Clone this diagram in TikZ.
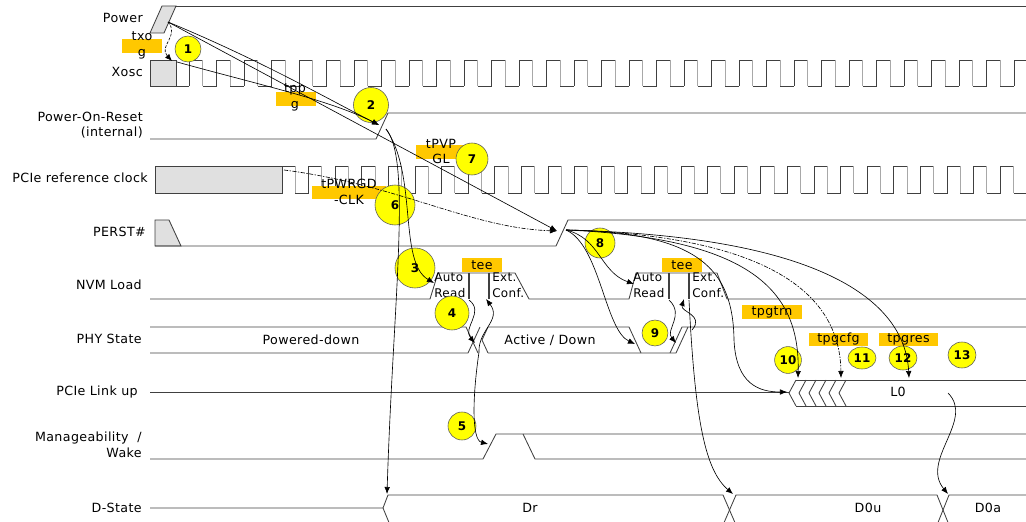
\documentclass[tikz,border=0pt]{standalone}
\usepackage{fontspec}
\setmainfont{DejaVu Sans}[LetterSpace=3]
\usepackage{xcolor}
\usetikzlibrary{arrows.meta,shapes.geometric}

\definecolor{wavegrey}{HTML}{404040}
\definecolor{edgegrey}{HTML}{A8A8A8}
\definecolor{shadegrey}{HTML}{E0E0E0}
\definecolor{tmark}{HTML}{FFC800}
\definecolor{bubble}{HTML}{FFFF00}

\begin{document}
\begin{tikzpicture}[x=0.25mm, y=-0.25mm, inner sep=0pt]
		\tikzstyle{every node}=[font=\fontsize{9}{11}\selectfont]
		\tikzstyle{sig}=[draw=wavegrey, line width=0.6pt]
		\tikzstyle{lbl}=[anchor=east, align=right]
		\tikzstyle{tbox}=[fill=tmark, minimum height=3.3mm]
		\tikzstyle{bub}=[circle, draw=black!65, fill=bubble, font=\bfseries\fontsize{8.5}{9}\selectfont]
		\tikzstyle{conn}=[draw=black, line width=0.45pt, -{Latex[length=5pt,width=4pt]}]
		\tikzstyle{inner}=[font=\fontsize{8.5}{11.4}\selectfont, anchor=west, align=left]

			\useasboundingbox (0,0) rectangle (1026,522);

			% row labels
			\node[lbl] (lpower) at (143,18) {Power};
			\node[lbl] (lxosc) at (143,72) {Xosc};
			\node[lbl] (lpor) at (143,125) {Power-On-Reset\\(internal)};
			\node[lbl] (lref) at (148,178) {PCIe reference clock};
			\node[lbl] (lperst) at (146,232) {PERST\#};
			\node[lbl] (lnvm) at (142,285) {NVM Load};
			\node[lbl] (lphy) at (142,339) {PHY State};
			\node[lbl] (llink) at (138,392) {PCIe Link up};
			\node[lbl] (lmng) at (142,445) {Manageability\ \ /\\Wake};
			\node[lbl] (ldst) at (142,508) {D-State};

			% waveforms
			\filldraw[sig, fill=shadegrey] (150,33) -- (162,6) -- (176,6) -- (164,33) -- cycle;
			\draw[sig] (176,6) -- (1026,6);

			\filldraw[sig, fill=shadegrey] (150,60) rectangle (176,86);
			\draw[sig] (176,86) -- (189,86);
			\filldraw[sig, fill=shadegrey] (155,166) rectangle (282,193);
			\begin{scope}
				\clip (150,0) rectangle (1026,522);
				\foreach \k in {0,...,30} {
					\pgfmathsetmacro{\xa}{189+27.5*\k}
					\pgfmathsetmacro{\xb}{\xa+13.75}
					\pgfmathsetmacro{\xc}{\xa+27.5}
					\draw[sig] (\xa,86) -- (\xa,60) -- (\xb,60);
					\draw[sig, draw=edgegrey] (\xb,60) -- (\xb,86);
					\draw[sig] (\xb,86) -- (\xc,86);
				}
				\foreach \k in {0,...,27} {
					\pgfmathsetmacro{\xa}{282+26.6*\k}
					\pgfmathsetmacro{\xb}{\xa+13.3}
					\pgfmathsetmacro{\xc}{\xa+26.6}
					\draw[sig] (\xa,166) -- (\xb,166);
					\draw[sig, draw=edgegrey] (\xb,166) -- (\xb,193);
					\draw[sig] (\xb,193) -- (\xc,193) -- (\xc,166);
				}
			\end{scope}

			\draw[sig] (150,139) -- (376,139) -- (388,113) -- (1026,113);

			\filldraw[sig, fill=shadegrey] (155,220) -- (169,220) -- (181,246) -- (155,246) -- cycle;
			\draw[sig] (155,246) -- (556,246) -- (568,220) -- (1026,220);

			\draw[sig] (150,299) -- (430,299) -- (438,273) -- (515,273) -- (529,299) -- (629,299)
				-- (636,273) -- (717,273) -- (727,299) -- (1026,299);
			\foreach \x in {469,489,669,689}
				\draw[sig, line width=1.3pt] (\x,273) -- (\x,299);

			\draw[sig] (150,327) -- (466,327) -- (478,353);
			\draw[sig] (150,353) -- (468,353) -- (480,327);
			\draw[sig] (488,327) -- (482,340) -- (488,353);
			\draw[sig] (488,327) -- (629,327) -- (641,353);
			\draw[sig] (488,353) -- (676,353) -- (688,327);
			\draw[sig] (670,353) -- (682,327) -- (1026,327);

			\draw[sig] (150,392) -- (789,392);
			\foreach \i in {0,...,5}
				\draw[sig] ({796+10*\i},380) -- ({789+10*\i},393) -- ({796+10*\i},406);
			\draw[sig] (796,380) -- (1026,380);
			\draw[sig] (796,406) -- (1026,406);

			\draw[sig] (150,459) -- (483,459) -- (496,434) -- (1026,434);
			\draw[sig] (523,434) -- (535,459) -- (1026,459);

			\begin{scope}
				\clip (0,0) rectangle (1026,522);
				\draw[sig] (150,508) -- (383,508) -- (388,495) -- (723,495) -- (736,525) -- (937,525) -- (949,495) -- (1026,495);
				\draw[sig] (383,508) -- (390,525) -- (723,525) -- (736,495) -- (937,495) -- (949,525) -- (1026,525);
			\end{scope}

			% state texts
			\node (tpd) at (311,340) {Powered-down};
			\node (tact) at (550,340) {Active / Down};
			\node (tlz) at (898,392) {L0};
			\node (tdr) at (530,508) {Dr};
			\node (tdu) at (868,508) {D0u};
			\node (tda) at (988,508) {D0a};
			\node[inner] (autoA) at (434,285) {Auto\\Read};
			\node[inner] (extA) at (492,285) {Ext.\\Conf.};
			\node[inner] (autoB) at (633,285) {Auto\\Read};
			\node[inner] (extB) at (692,285) {Ext.\\Conf.};

			% timing marks
			\node[tbox, minimum width=10mm] (txobox) at (142,46) {};
			\node[align=center] (txo) at (142,45.5) {txo\\g};
			\node[tbox, minimum width=10mm] (tppbox) at (296,99) {};
			\node[align=center] (tpp) at (295,97.5) {tpp\\g};
			\node[tbox, minimum width=12.75mm] (tpvpbox) at (441.5,152) {};
			\node[align=center] (tpvp) at (441,151.5) {tPVP\\GL};
			\node[tbox, minimum width=18.5mm] (tpwrbox) at (349,192.5) {};
			\node[align=center] (tpwr) at (349,192) {tPWRGD\\-CLK};
			\node[tbox, minimum width=10mm, minimum height=3.5mm] (teeA) at (482,265) {tee};
			\node[tbox, minimum width=10mm, minimum height=3.5mm] (teeB) at (682,265) {tee};
			\node[tbox, minimum width=15mm, minimum height=3.5mm] (trn) at (772,312) {tpgtrn};
			\node[tbox, minimum width=14.75mm] (cfg) at (838.5,339.5) {tpgcfg};
			\node[tbox, minimum width=14.75mm] (res) at (908.5,339.5) {tpgres};

			% numbered marks
			\node[bub, minimum size=6.5mm] (n1) at (188,49) {1};
			\node[bub, minimum size=8.75mm] (n2) at (371,105) {2};
			\node[bub, minimum size=10mm] (n3) at (415,268) {3};
			\node[bub, minimum size=8.5mm] (n4) at (452,313) {4};
			\node[bub, minimum size=7mm] (n5) at (462,426) {5};
			\node[bub, minimum size=10mm] (n6) at (395,205) {6};
			\node[bub, minimum size=8mm] (n7) at (472,159) {7};
			\node[bub, minimum size=7.5mm] (n8) at (600,243) {8};
			\node[bub, minimum size=6.5mm] (n9) at (655,333) {9};
			\node[bub, minimum size=6.7mm] (n10) at (788,360) {10};
			\node[bub, ellipse, minimum width=7mm, minimum height=5.5mm] (n11) at (862,358) {11};
			\node[bub, ellipse, minimum width=7mm, minimum height=6mm] (n12) at (903,358) {12};
			\node[bub, ellipse, minimum width=7mm, minimum height=6.5mm] (n13) at (962,355) {13};

			% connector ends
			\coordinate (pwr) at (168,22);
			\coordinate (xoscin) at (172,61);
			\coordinate (xoscout) at (177,62);
			\coordinate (porin) at (379,125);
			\coordinate (porout) at (386,129);
			\coordinate (refout) at (284,170);
			\coordinate (perstin) at (557,231);
			\coordinate (perstout) at (566,230);
			\coordinate (nvmAin) at (434,283);
			\coordinate (nvmAout) at (469,300);
			\coordinate (phyAin) at (475,343);
			\coordinate (phyAout) at (479,352);
			\coordinate (extAin) at (486,299);
			\coordinate (mngin) at (488,444);
			\coordinate (drin) at (387,494);
			\coordinate (nvmBin) at (634,284);
			\coordinate (phyBin) at (635,344);
			\coordinate (nvmBout) at (669,300);
			\coordinate (phyCin) at (676,343);
			\coordinate (phyCout) at (692,330);
			\coordinate (extBin) at (684,299);
			\coordinate (extBout) at (689,300);
			\coordinate (d0uin) at (733,494);
			\coordinate (linkin) at (787,392);
			\coordinate (trnin) at (798,378);
			\coordinate (cfgin) at (841,378);
			\coordinate (resin) at (909,378);
			\coordinate (lzout) at (948,393);
			\coordinate (d0ain) at (948,494);

			% connectors
			\draw[conn, dash pattern=on 2pt off 1pt] (pwr) .. controls (180,36) and (158,46) .. (xoscin);
			\draw[conn] (pwr) .. controls (260,60) and (330,100) .. (porin);
			\draw[conn] (xoscout) .. controls (260,85) and (330,100) .. (porin);
			\draw[conn] (pwr) -- (perstin);
			\draw[conn, dash pattern=on 3pt off 1pt on 1pt off 1pt] (refout) .. controls (400,185) and (470,228) .. (perstin);
			\draw[conn] (porout) .. controls (412,160) and (393,300) .. (drin);
			\draw[conn] (porout) .. controls (418,175) and (398,262) .. (nvmAin);
			\draw[conn] (nvmAout) .. controls (485,312) and (462,328) .. (phyAin);
			\draw[conn] (phyAout) .. controls (478,330) and (502,320) .. (extAin);
			\draw[conn] (phyAout) .. controls (472,400) and (472,440) .. (mngin);
			\draw[conn] (perstout) .. controls (600,238) and (600,272) .. (nvmBin);
			\draw[conn] (perstout) .. controls (600,245) and (605,330) .. (phyBin);
			\draw[conn] (nvmBout) .. controls (685,315) and (665,330) .. (phyCin);
			\draw[conn] (phyCout) .. controls (705,315) and (680,312) .. (extBin);
			\draw[conn] (extBout) .. controls (695,420) and (705,470) .. (d0uin);
			\draw[conn] (perstout) .. controls (700,232) and (733,270) .. (734,340) .. controls (736,385) and (760,392) .. (linkin);
			\draw[conn] (perstout) .. controls (750,238) and (800,290) .. (trnin);
			\draw[conn, dash pattern=on 3pt off 1pt on 1pt off 1pt] (perstout) .. controls (780,236) and (840,300) .. (cfgin);
			\draw[conn] (perstout) .. controls (820,236) and (905,300) .. (resin);
			\draw[conn] (lzout) .. controls (975,420) and (920,460) .. (d0ain);
		\end{tikzpicture}
\end{document}
